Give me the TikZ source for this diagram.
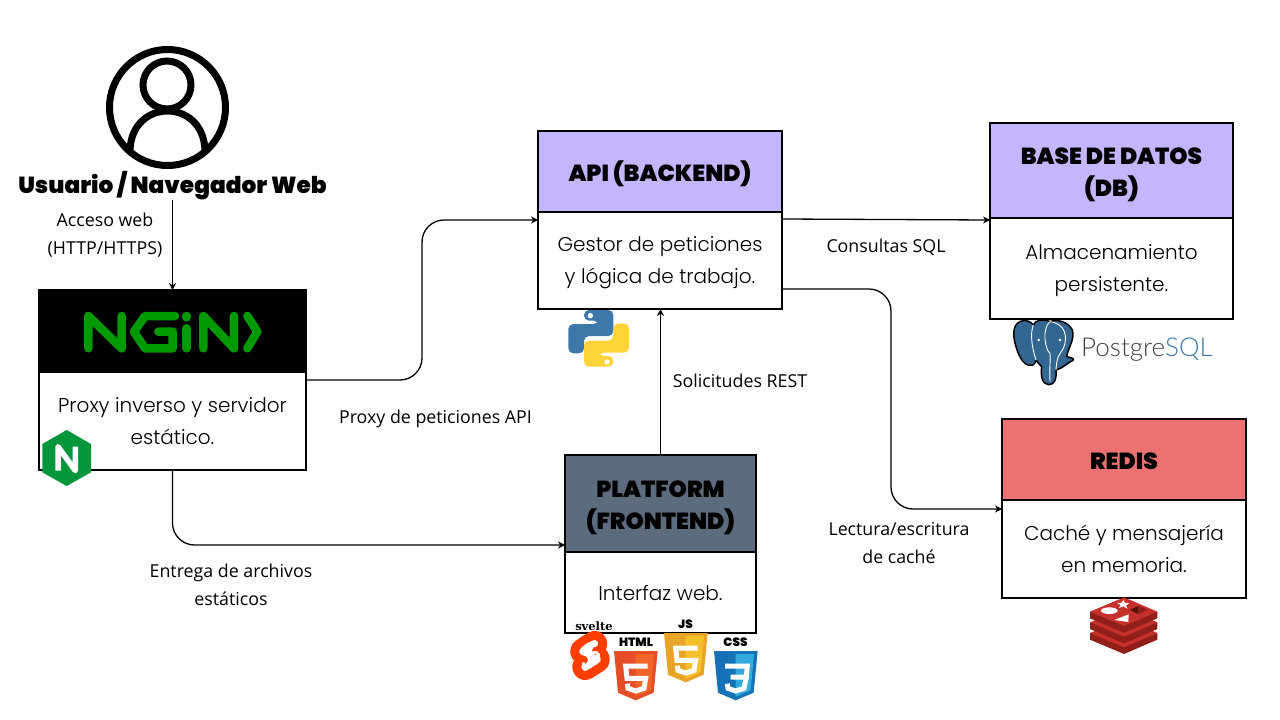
\documentclass[tikz,border=0pt]{standalone}
\usepackage{fontspec}
\usepackage{xcolor}
\usetikzlibrary{arrows.meta,positioning}
\setmainfont{Poppins Light}
\newfontfamily\titlefont{Poppins Black}
\newfontfamily\labelfont{Open Sans}
\newfontfamily\logoserif{DejaVu Serif}
\newfontfamily\pgfont{Lato Light}
\definecolor{cLav}{HTML}{C4B5FD}
\definecolor{cRed}{HTML}{EC7272}
\definecolor{cSlate}{HTML}{5D6B7E}
\definecolor{cNgx}{HTML}{009900}
\definecolor{cNgxHex}{HTML}{009639}
\definecolor{cPg}{HTML}{336791}
\definecolor{cPgTxt}{HTML}{3F76A8}
\definecolor{cPy}{HTML}{3C78AA}
\definecolor{cPyY}{HTML}{FFD43B}
\definecolor{cRdTop}{HTML}{C6302B}
\definecolor{cRdSide}{HTML}{8F1F18}
\definecolor{cSv}{HTML}{FF3E00}
\definecolor{cHt}{HTML}{E44D26}
\definecolor{cHtL}{HTML}{F16529}
\definecolor{cJs}{HTML}{E8A427}
\definecolor{cJsL}{HTML}{F5C02B}
\definecolor{cCs}{HTML}{1572B6}
\definecolor{cCsL}{HTML}{33A9DC}
\newcommand{\shieldlogo}[5]{
  \begin{scope}[shift={(#1,#2)},scale=1/3]
    \fill[#3] (0,0) -- (131,0) -- (119,125) -- (65,148) -- (12,125) -- cycle;
    \fill[#4] (65,9) -- (120,9) -- (110,118) -- (65,137) -- cycle;
    \draw[white,line width=5pt,line join=miter] #5;
  \end{scope}}
\begin{document}
\begin{tikzpicture}[x=1pt,y=-1pt,>={Stealth[length=7pt,width=7pt]},
  head/.style={rectangle,draw=black,line width=1.4pt,outer sep=0pt,inner sep=0pt,align=center,font=\titlefont\fontsize{23.2}{32.5}\selectfont,text height=#1,text depth=8pt},
  head/.default=28pt,
  body/.style={rectangle,draw=black,line width=1.4pt,fill=white,outer sep=0pt,inner sep=0pt,align=center,font=\fontsize{20}{32}\selectfont,text height=#1,text depth=9.6pt},
  body/.default=56.4pt,
  lab/.style={inner sep=0pt,align=center,font=\labelfont\fontsize{17.8}{28}\selectfont,text height=#1,text depth=9pt},
  lab/.default=22pt,
  flow/.style={->,line width=1.3pt,rounded corners=22pt},
  link/.style={->,line width=1.3pt},
  logotxt/.style={inner sep=0pt,font=\titlefont\fontsize{12}{12}\selectfont}]
  \useasboundingbox (0,0) rectangle (1280,720);
  % user
  \node[circle,draw=black,line width=7pt,minimum size=116pt,inner sep=0pt] (user) at (167.5,107.5) {};
  \node[circle,draw=black,line width=7pt,minimum size=48pt,inner sep=0pt] (userhead) at (167,85) {};
  \draw[line width=7pt] (130,150) .. controls (132,98) and (203,98) .. (205,150);
  \node[inner sep=0pt,minimum height=26pt,font=\titlefont\fontsize{23.2}{26}\selectfont] (usertxt) at (172.5,185.5) {Usuario / Navegador Web};
  % nginx
  \node[head,fill=black,minimum width=267pt,minimum height=82pt] (nginxhead) at (172.5,331) {};
  \node[body,minimum width=267pt,minimum height=98pt,below=0pt of nginxhead] (nginxbody) {Proxy inverso y servidor\\estático.};
  % api
  \node[head,fill=cLav,minimum width=244pt,minimum height=81pt] (apihead) at (660,171.5) {API (BACKEND)};
  \node[body,minimum width=244pt,minimum height=97pt,below=0pt of apihead] (apibody) {Gestor de peticiones\\y lógica de trabajo.};
  % db
  \node[head=60pt,fill=cLav,minimum width=243pt,minimum height=95pt] (dbhead) at (1111.5,170.5) {BASE DE DATOS\\(DB)};
  \node[body,minimum width=243pt,minimum height=101pt,below=0pt of dbhead] (dbbody) {Almacenamiento\\persistente.};
  % redis
  \node[head,fill=cRed,minimum width=244pt,minimum height=81pt] (redishead) at (1124,459.5) {REDIS};
  \node[body,minimum width=244pt,minimum height=98pt,below=0pt of redishead] (redisbody) {Caché y mensajería\\en memoria.};
  % platform
  \node[head=60pt,fill=cSlate,minimum width=191pt,minimum height=97pt] (fronthead) at (660.5,503.5) {PLATFORM\\(FRONTEND)};
  \node[body=26.4pt,minimum width=191pt,minimum height=81pt,below=0pt of fronthead] (frontbody) {Interfaz web.};
  % connectors
  \draw[link] (usertxt.south) -- (nginxhead.north);
  \draw[flow] ([yshift=-8pt]nginxbody.north east) -- (422,380) -- (422,220) -- ([yshift=-8pt]apibody.north west);
  \draw[flow] (nginxbody.south) -- (172.5,545) -- ([yshift=7pt]frontbody.north west);
  \draw[link] (fronthead.north) -- (apibody.south -| fronthead.north);
  \draw[link] ([yshift=-7pt]apibody.north east) -- ([yshift=-2pt]dbbody.north west);
  \draw[flow] ([yshift=-77pt]apibody.north east) -- (891,289) -- (891,509) -- ([yshift=-9pt]redisbody.north west);
  % labels
  \node[lab=50pt] (lbweb) at (105,234) {Acceso web\\(HTTP/HTTPS)};
  \node[lab] (lbproxy) at (435.5,417) {Proxy de peticiones API};
  \node[lab=50pt] (lbfiles) at (231,585) {Entrega de archivos\\estáticos};
  \node[lab] (lbrest) at (740,381) {Solicitudes REST};
  \node[lab] (lbsql) at (886,246) {Consultas SQL};
  \node[lab=50pt] (lbcache) at (899,543) {Lectura/escritura\\de caché};
  % nginx logo
  \begin{scope}[shift={(30,280)},scale=1/3,cNgx,line width=8.5pt,line cap=round,line join=round]
    \draw (175,205) -- (175,108) -- (275,205) -- (275,108);
    \draw (435,108) -- (345,108) -- (312,155) -- (345,205) -- (428,205) -- (428,155) -- (385,155);
    \draw (470,108) -- (470,112);
    \draw (470,145) -- (470,205);
    \draw (520,205) -- (520,108) -- (612,205) -- (612,108);
    \draw (652,108) -- (682,155) -- (652,205);
  \end{scope}
  \begin{scope}[shift={(30,280)},scale=1/3]
    \fill[cNgxHex] (110,450) -- (183,492) -- (183,577) -- (110,618) -- (37,577) -- (37,492) -- cycle;
    \draw[white,line width=5.5pt,line join=round] (84,572) -- (84,500) -- (136,572) -- (136,500);
  \end{scope}
  % python logo
  \begin{scope}[shift={(550,300)},scale=1/3]
    \fill[cPy,rounded corners=5pt] (102,30) -- (190,30) -- (190,108) -- (102,108) -- (102,160) -- (55,160) -- (55,72) -- (146,72) -- (146,62) -- (102,62) -- cycle;
    \fill[cPyY,rounded corners=5pt] (190,200) -- (102,200) -- (102,122) -- (190,122) -- (190,70) -- (237,70) -- (237,158) -- (146,158) -- (146,168) -- (190,168) -- cycle;
    \fill[white] (121,47) circle (8) (171,186) circle (8);
  \end{scope}
  % postgres logo
  \begin{scope}[shift={(1000,310)},scale=1/3]
    \filldraw[fill=cPg,draw=black,line width=1.5pt,line join=round]
      (70,32) .. controls (40,35) and (35,70) .. (48,110) .. controls (58,145) and (75,172) .. (98,165)
      .. controls (105,163) and (108,150) .. (108,150) .. controls (115,160) and (120,165) .. (125,170)
      .. controls (122,195) and (125,222) .. (145,224) .. controls (165,225) and (170,205) .. (168,180)
      .. controls (190,175) and (205,155) .. (218,152) .. controls (228,146) and (210,142) .. (200,140)
      .. controls (205,110) and (225,90) .. (217,60) .. controls (205,35) and (170,26) .. (150,35)
      .. controls (130,25) and (105,30) .. (100,45) .. controls (92,34) and (80,31) .. (70,32) -- cycle;
    \draw[white,line width=0.9pt] (100,45) .. controls (90,70) and (95,110) .. (108,150);
    \draw[white,line width=0.9pt] (150,35) .. controls (125,55) and (135,120) .. (150,130) .. controls (152,150) and (148,170) .. (150,215);
    \draw[white,line width=0.9pt] (150,35) .. controls (195,40) and (205,80) .. (190,115) .. controls (182,130) and (170,135) .. (168,180);
    \fill[white] (116,90) circle (4) (180,90) circle (4);
  \end{scope}
  \node[inner sep=0pt,anchor=west,font=\pgfont\fontsize{26}{26}\selectfont] (pgtxt) at (1081,350) {\textcolor{black!75}{Postgre}\textcolor{cPgTxt}{SQL}};
  % redis logo
  \begin{scope}[shift={(1070,590)},scale=1/3]
    \foreach \off in {64,32,0}{
      \fill[cRdSide] (60,65+\off) -- (60,85+\off) -- (162,128+\off) -- (262,85+\off) -- (262,65+\off) -- cycle;
      \fill[cRdTop] (60,65+\off) -- (162,22+\off) -- (262,65+\off) -- (162,108+\off) -- cycle;
    }
    \fill[white] (160,30) -- (164,38) -- (178,40) -- (168,46) -- (172,56) -- (160,49) -- (147,54) -- (152,45) -- (141,39) -- (155,38) -- cycle;
    \fill[white] (118,62) ellipse (25 and 10);
    \fill[white] (133,90) -- (176,73) -- (175,96) -- cycle;
    \fill[cRdSide!60!black] (205,47) -- (205,72) -- (180,60) -- cycle;
    \fill[cRdSide] (205,47) -- (233,60) -- (205,72) -- cycle;
  \end{scope}
  % frontend logos
  \begin{scope}[shift={(555,610)},scale=1/3]
    \draw[cSv,line width=9pt,line cap=round,line join=round]
      (135,120) .. controls (155,100) and (135,65) .. (105,80) -- (70,103) .. controls (50,118) and (60,150) .. (85,150);
    \draw[cSv,line width=9pt,line cap=round,line join=round]
      (73,153) .. controls (53,170) and (75,210) .. (105,192) -- (140,170) .. controls (160,155) and (150,120) .. (125,122);
    \draw[white,line width=2.8pt,line cap=round]
      (120,108) .. controls (115,96) and (105,98) .. (100,102) -- (85,113) .. controls (75,122) and (85,138) .. (100,132)
      -- (115,128) .. controls (130,122) and (138,142) .. (125,152) -- (105,165) .. controls (92,172) and (85,165) .. (85,160);
  \end{scope}
  \shieldlogo{614}{651}{cHt}{cHtL}{(101,45) -- (35,45) -- (39,82) -- (95,82) -- (90,112) -- (65,120) -- (42,112) -- (40,98)}
  \shieldlogo{664}{633}{cJs}{cJsL}{(101,45) -- (35,45) -- (39,82) -- (95,82) -- (90,112) -- (65,120) -- (42,112) -- (40,98)}
  \shieldlogo{714}{651}{cCs}{cCsL}{(33,45) -- (100,45) -- (97,78) -- (50,78) (97,78) -- (90,112) -- (65,120) -- (42,112) -- (40,98)}
  \node[inner sep=0pt,font=\logoserif\bfseries\fontsize{11.5}{12}\selectfont] (svtxt) at (594,626) {svelte};
  \node[logotxt] (httxt) at (636,642.5) {HTML};
  \node[logotxt] (jstxt) at (685.5,624) {JS};
  \node[logotxt] (cstxt) at (735.5,642.5) {CSS};
\end{tikzpicture}
\end{document}
